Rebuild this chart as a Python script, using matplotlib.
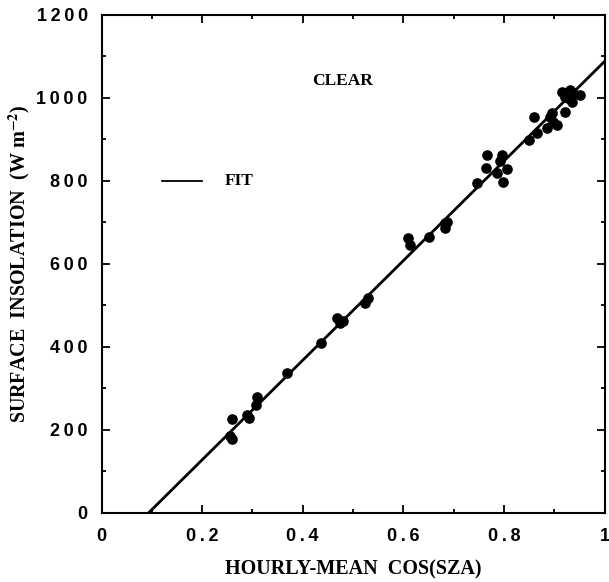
import numpy as np
import matplotlib.pyplot as plt
from matplotlib.ticker import MultipleLocator

# data
cos_sza = [0.255, 0.259, 0.259, 0.289, 0.294, 0.307, 0.310, 0.368, 0.436,
           0.468, 0.474, 0.481, 0.524, 0.530, 0.610, 0.613, 0.652, 0.683,
           0.683, 0.686, 0.746, 0.764, 0.766, 0.786, 0.792, 0.796, 0.799,
           0.806, 0.849, 0.860, 0.865, 0.885, 0.892, 0.895, 0.898, 0.905,
           0.915, 0.921, 0.921, 0.928, 0.931, 0.935, 0.938, 0.951]
insolation = [185, 178, 226, 236, 228, 260, 279, 338, 410,
              469, 458, 463, 505, 517, 662, 646, 666, 698,
              686, 702, 796, 832, 863, 820, 847, 863, 798,
              828, 899, 955, 915, 927, 955, 963, 943, 935,
              1015, 967, 1003, 999, 1019, 991, 1011, 1007]

xtick_vals = [0, 0.2, 0.4, 0.6, 0.8, 1.0]
xtick_text = ['0', '0.2', '0.4', '0.6', '0.8', '1']
ytick_vals = [0, 200, 400, 600, 800, 1000, 1200]

# linear fit: S = a*cos + b
fit_slope = 1200.0
fit_intercept = -112.0

serif = ['Liberation Serif', 'DejaVu Serif']
sans = ['Liberation Sans', 'DejaVu Sans']
plt.rcParams['mathtext.fontset'] = 'stix'

def spaced(s):
    # tick labels in the original are letter-spaced
    return '\u2009'.join(s)

fig = plt.figure(figsize=(6.09, 5.82), dpi=100)
ax = fig.add_axes([0.1667, 0.1186, 0.826, 0.8557])

x0 = -fit_intercept / fit_slope
xf = np.array([x0, 1.0])
ax.plot(xf, fit_slope * xf + fit_intercept, color='black', lw=2.0)
ax.scatter(cos_sza, insolation, s=44, color='black', zorder=3, clip_on=False)

# legend drawn by hand
ax.plot([0.12, 0.2], [800, 800], color='black', lw=1.3)
ax.text(0.245, 800, 'FIT', family=serif, fontweight='bold', fontsize=12.5,
        va='center', ha='left')
ax.text(0.48, 1040, 'CLEAR', family=serif, fontweight='bold', fontsize=12.5,
        va='center', ha='center')

ax.set_xlim(0, 1)
ax.set_ylim(0, 1200)
ax.xaxis.set_minor_locator(MultipleLocator(0.1))
ax.yaxis.set_minor_locator(MultipleLocator(100))
ax.set_xticks(xtick_vals)
ax.set_xticklabels([spaced(t) for t in xtick_text])
ax.set_yticks(ytick_vals)
ax.set_yticklabels([spaced(str(v)) for v in ytick_vals])
ax.tick_params(which='both', direction='in', top=True, right=True, width=1.3)
ax.tick_params(which='major', length=6)
ax.tick_params(which='minor', length=3)
ax.tick_params(axis='x', pad=11)
ax.tick_params(axis='y', pad=10)
for lab in ax.get_xticklabels() + ax.get_yticklabels():
    lab.set_family(sans)
    lab.set_fontweight('bold')
    lab.set_fontsize(13)
for sp in ax.spines.values():
    sp.set_linewidth(1.5)

ax.set_xlabel('HOURLY-MEAN  COS(SZA)', family=serif, fontweight='bold',
              fontsize=14.5, labelpad=10)
ax.set_ylabel(r'SURFACE  INSOLATION  (W m$^{\mathbf{-2}}$)', family=serif,
              fontweight='bold', fontsize=14.5, labelpad=3)

fig.savefig('out.png', dpi=100)
